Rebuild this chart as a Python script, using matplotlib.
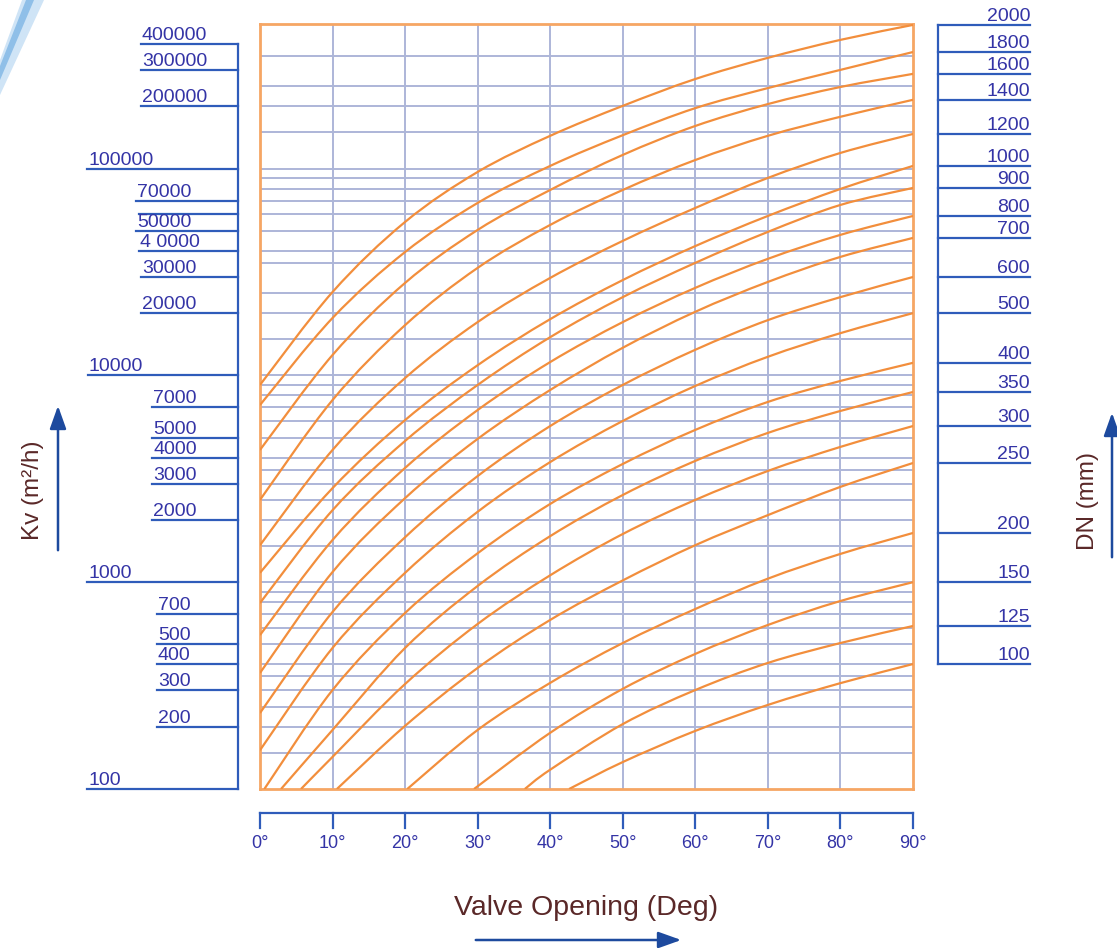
import numpy as np
import matplotlib
matplotlib.use("Agg")
import matplotlib.pyplot as plt
import matplotlib.transforms as mtransforms
from matplotlib.lines import Line2D
from matplotlib.patches import FancyArrowPatch, Polygon, PathPatch
from matplotlib.path import Path

W, H = 1117, 948

# valve opening (deg) where the curves are read
angles = [0, 10, 20, 30, 40, 50, 60, 70, 80, 90]

# Kv curves, one per valve size (DN). bottom ones start on the Kv=100 line
kv_dn2000 = [8990, 25300, 55200, 96300, 144000, 201000, 271000, 343000, 419000, 495000]
kv_dn1800 = [7190, 18950, 39500, 68200, 103000, 145000, 196000, 245000, 300000, 366000]
kv_dn1600 = [4360, 12550, 28000, 50500, 78800, 116400, 160700, 205000, 248000, 287000]
kv_dn1400 = [2500, 7600, 17500, 33100, 53400, 78800, 110000, 144000, 178000, 215000]
kv_dn1200 = [1510, 4360, 9710, 18100, 29600, 44700, 64500, 90100, 119000, 147000]
kv_dn1000 = [1110, 2850, 6080, 11200, 18700, 28900, 42200, 59000, 79700, 103000]
kv_dn900 = [793, 2230, 4820, 8990, 15300, 23900, 35000, 49400, 66700, 80600]
kv_dn800 = [555, 1600, 3570, 6800, 11600, 18100, 26500, 36600, 47800, 59000]
kv_dn700 = [364, 1120, 2550, 4930, 8500, 13600, 20300, 28300, 37400, 46200]
kv_dn600 = [233, 718, 1650, 3260, 5690, 8990, 13300, 18500, 23900, 29900]
kv_dn500 = [154, 481, 1110, 2190, 3810, 6020, 8890, 12300, 16000, 20000]

ang_dn400 = [0.6, 10, 20, 30, 40, 50, 60, 70, 80, 90]
kv_dn400 = [100, 301, 710, 1380, 2390, 3730, 5450, 7440, 9400, 11500]
ang_dn350 = [2.9, 10, 20, 30, 40, 50, 60, 70, 80, 90]
kv_dn350 = [100, 193, 481, 959, 1670, 2640, 3860, 5270, 6730, 8310]
ang_dn300 = [5.65, 10, 20, 30, 40, 50, 60, 70, 80, 90]
kv_dn300 = [100, 143, 322, 628, 1080, 1710, 2500, 3450, 4510, 5690]
ang_dn250 = [10.6, 20, 30, 40, 50, 60, 70, 80, 90]
kv_dn250 = [100, 202, 385, 657, 1020, 1510, 2110, 2890, 3770]
ang_dn200 = [20.3, 30, 40, 50, 60, 70, 80, 90]
kv_dn200 = [100, 193, 326, 508, 742, 1040, 1370, 1730]
ang_dn150 = [29.5, 40, 50, 60, 70, 80, 90]
kv_dn150 = [100, 187, 305, 450, 621, 811, 1000]
ang_dn125 = [36.5, 40, 50, 60, 70, 80, 90]
kv_dn125 = [100, 124, 206, 301, 407, 508, 614]
ang_dn100 = [42.6, 50, 60, 70, 80, 90]
kv_dn100 = [100, 135, 191, 255, 325, 402]

# scale labels
dn_labels = ["2000", "1800", "1600", "1400", "1200", "1000", "900", "800", "700", "600",
             "500", "400", "350", "300", "250", "200", "150", "125", "100"]
kv_ticks = [400000, 300000, 200000, 100000, 70000, 60000, 50000, 40000, 30000, 20000,
            10000, 7000, 5000, 4000, 3000, 2000, 1000, 700, 500, 400, 300, 200, 100]
kv_tick_labels = ["400000", "300000", "200000", "100000", "70000", "", "50000", "4 0000",
                  "30000", "20000", "10000", "7000", "5000", "4000", "3000", "2000",
                  "1000", "700", "500", "400", "300", "200", "100"]
kv_tick_x = [142, 142, 142, 88, 137, 140, 137, 140, 142, 142, 89, 153, 153, 153, 153, 153,
             88, 158, 158, 158, 158, 158, 88]
deg_ticks = [0, 10, 20, 30, 40, 50, 60, 70, 80, 90]
grid_kv = [150, 200, 250, 300, 350, 400, 500, 600, 700, 800, 900, 1000,
           1500, 2000, 2500, 3000, 3500, 4000, 5000, 6000, 7000, 8000, 9000, 10000,
           15000, 20000, 25000, 35000, 40000, 50000, 60000, 70000, 80000, 90000, 100000,
           150000, 200000, 250000, 350000]

left_curves = [kv_dn2000, kv_dn1800, kv_dn1600, kv_dn1400, kv_dn1200, kv_dn1000,
               kv_dn900, kv_dn800, kv_dn700, kv_dn600, kv_dn500]
bottom_curves = [(ang_dn400, kv_dn400), (ang_dn350, kv_dn350), (ang_dn300, kv_dn300),
                 (ang_dn250, kv_dn250), (ang_dn200, kv_dn200), (ang_dn150, kv_dn150),
                 (ang_dn125, kv_dn125), (ang_dn100, kv_dn100)]

ORANGE = "#f28e3c"
FRAME = "#f6a664"
GRID = "#adb6d8"
BLUE = "#2f5cba"
TXT = "#3434a6"
MAROON = "#5a2828"


def fx(px):
    return px / W


def fy(py):
    return 1 - py / H


def smooth_path(xs, ys):
    # catmull-rom through the read points, drawn as bezier segments in log space
    x = np.asarray(xs, float)
    y = np.log10(np.asarray(ys, float))
    n = len(x)
    verts = [(x[0], y[0])]
    codes = [Path.MOVETO]
    for i in range(n - 1):
        p0 = np.array([x[max(i - 1, 0)], y[max(i - 1, 0)]])
        p1 = np.array([x[i], y[i]])
        p2 = np.array([x[i + 1], y[i + 1]])
        p3 = np.array([x[min(i + 2, n - 1)], y[min(i + 2, n - 1)]])
        c1 = p1 + (p2 - p0) / 6
        c2 = p2 - (p3 - p1) / 6
        verts += [tuple(c1), tuple(c2), tuple(p2)]
        codes += [Path.CURVE4] * 3
    verts = [(vx, 10 ** vy) for vx, vy in verts]
    return Path(verts, codes)


fig = plt.figure(figsize=(W / 100, H / 100), dpi=100)
fig.patch.set_facecolor("white")
plt.rcParams["font.family"] = ["Liberation Sans", "DejaVu Sans"]

# decorative swoosh top-left
fig.add_artist(Polygon([(fx(0), fy(95)), (fx(0), fy(60)), (fx(22), fy(0)), (fx(44), fy(0))],
                       closed=True, transform=fig.transFigure, facecolor="#cfe4f6",
                       edgecolor="none"))
fig.add_artist(Polygon([(fx(0), fy(80)), (fx(0), fy(66)), (fx(26), fy(0)), (fx(34), fy(0))],
                       closed=True, transform=fig.transFigure, facecolor="#8fbfe8",
                       edgecolor="none"))

ax = fig.add_axes([fx(260), fy(789), fx(913) - fx(260), fy(24) - fy(789)])
ax.set_yscale("log")
ax.set_xlim(0, 90)
ax.set_ylim(100, 5e5)
ax.set_xticks([])
ax.set_yticks([])
ax.yaxis.set_minor_locator(matplotlib.ticker.NullLocator())
for s in ax.spines.values():
    s.set_color(FRAME)
    s.set_linewidth(2)

for g in grid_kv:
    ax.axhline(g, color=GRID, lw=1.4, zorder=1)
for d in deg_ticks[1:-1]:
    ax.axvline(d, color=GRID, lw=1.4, zorder=1)

for kv in left_curves:
    ax.add_patch(PathPatch(smooth_path(angles, kv), facecolor="none", edgecolor=ORANGE,
                           lw=1.6, zorder=3))
for ang, kv in bottom_curves:
    ax.add_patch(PathPatch(smooth_path(ang, kv), facecolor="none", edgecolor=ORANGE,
                           lw=1.6, zorder=3))

# left Kv scale
tl = mtransforms.blended_transform_factory(fig.transFigure, ax.transData)
ax.add_line(Line2D([fx(238), fx(238)], [100, 400000], transform=tl, color=BLUE, lw=1.6,
                   clip_on=False))
for v, lab, x in zip(kv_ticks, kv_tick_labels, kv_tick_x):
    ax.add_line(Line2D([fx(x - 1), fx(238)], [v, v], transform=tl, color=BLUE, lw=1.6,
                       clip_on=False))
    if lab:
        ax.text(fx(x), v, lab, transform=tl, ha="left", va="bottom", fontsize=14,
                color=TXT, clip_on=False)

# right DN scale, ticks sit at the Kv reached at 90 deg
dn_end = [c[-1] for c in left_curves] + [c[1][-1] for c in bottom_curves]
ax.add_line(Line2D([fx(938), fx(938)], [dn_end[-1], dn_end[0]], transform=tl, color=BLUE,
                   lw=1.6, clip_on=False))
for v, lab in zip(dn_end, dn_labels):
    ax.add_line(Line2D([fx(938), fx(1030)], [v, v], transform=tl, color=BLUE, lw=1.6,
                       clip_on=False))
    ax.text(fx(1030), v, lab, transform=tl, ha="right", va="bottom", fontsize=14,
            color=TXT, clip_on=False)

# bottom degree scale
tb = mtransforms.blended_transform_factory(ax.transData, fig.transFigure)
ax.add_line(Line2D([0, 90], [fy(813), fy(813)], transform=tb, color=BLUE, lw=1.6,
                   clip_on=False))
for d in deg_ticks:
    ax.add_line(Line2D([d, d], [fy(813), fy(828)], transform=tb, color=BLUE, lw=1.6,
                       clip_on=False))
    ax.text(d, fy(844), f"{d}°", transform=tb, ha="center", va="center", fontsize=13,
            color=TXT, clip_on=False)

# axis titles and arrows
fig.text(fx(586), fy(908), "Valve Opening (Deg)", ha="center", va="center", fontsize=20.5,
         color=MAROON)
fig.text(fx(33), fy(490), "Kv (m²/h)", ha="center", va="center", rotation=90,
         fontsize=17.5, color=MAROON)
fig.text(fx(1088), fy(501), "DN (mm)", ha="center", va="center", rotation=90,
         fontsize=17.5, color=MAROON)

for (x0, y0), (x1, y1) in [((473, 940), (684, 940)), ((58, 553), (58, 403)),
                           ((1112, 560), (1112, 410))]:
    fig.add_artist(FancyArrowPatch((fx(x0), fy(y0)), (fx(x1), fy(y1)),
                                   transform=fig.transFigure,
                                   arrowstyle="-|>,head_length=14,head_width=5",
                                   color="#1d4a9e", lw=1.8, mutation_scale=1))

fig.savefig("out.png", dpi=100)
